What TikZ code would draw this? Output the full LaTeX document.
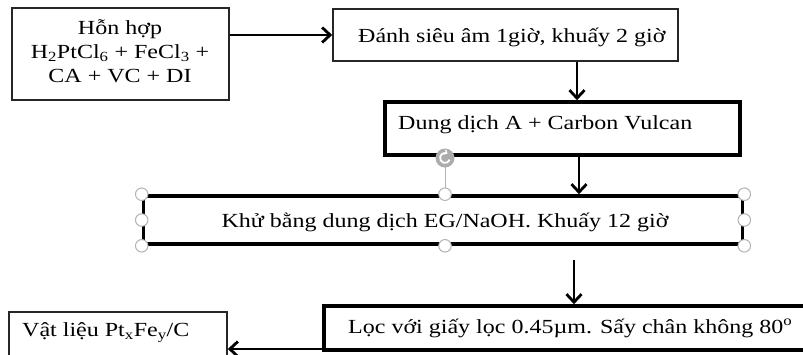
\documentclass[tikz,border=0pt]{standalone}
\usepackage{fontspec}
\setmainfont[FakeStretch=1.2]{Liberation Serif}
\usetikzlibrary{arrows.meta,calc}
\begin{document}
\begin{tikzpicture}[x=1pt,y=-1pt,
  thinbox/.style={draw=black!85, line width=1.6pt, inner sep=0pt},
  thickbox/.style={draw=black, line width=3.6pt, inner sep=0pt},
  txt/.style={font=\fontsize{20}{24}\selectfont, inner sep=0pt},
  arr/.style={line width=2.8pt, -{Straight Barb[length=8pt,width=15pt,line width=2.8pt]}},
  handle/.style={circle, draw=gray!60, fill=white, line width=1pt, minimum size=12.5pt, inner sep=0pt},
  rothandle/.style={circle, fill=gray!65, minimum size=19pt, inner sep=0pt}]
\useasboundingbox (0,0) rectangle (803,354);

% boxes
\node[thinbox, minimum width=217pt, minimum height=92pt] (b1) at (120.5,54) {};
\node[thinbox, minimum width=345pt, minimum height=52pt] (b2) at (505.5,35) {};
\node[thickbox, minimum width=355pt, minimum height=53pt] (b3) at (562.5,128.5) {};
\node[thickbox, minimum width=599pt, minimum height=48pt] (b4) at (443,220) {};
\node[thickbox, minimum width=482pt, minimum height=44pt] (b5) at (565,328) {};
\node[thinbox, minimum width=218pt, minimum height=46pt] (b6) at (118,335) {};

% texts
\node[txt, anchor=base] (t1a) at (120,34.5) {Hỗn hợp};
\node[txt, anchor=base] (t1b) at (120,58.5) {H\textsubscript{2}PtCl\textsubscript{6} + FeCl\textsubscript{3} +};
\node[txt, anchor=base] (t1c) at (120,82.5) {CA + VC + DI};
\node[txt, anchor=base west] (t2) at (358,42) {Đánh siêu âm 1giờ, khuấy 2 giờ};
\node[txt, anchor=base west] (t3) at (398,129) {Dung dịch A + Carbon Vulcan};
\node[txt, anchor=base] (t4) at (445,227) {Khử bằng dung dịch EG/NaOH. Khuấy 12 giờ};
\node[txt, anchor=base west] (t5) at (348,333) {Lọc với giấy lọc 0.45µm. Sấy chân không 80\textsuperscript{o}};
\node[txt, anchor=base west] (t6) at (22,336.5) {Vật liệu Pt\textsubscript{x}Fe\textsubscript{y}/C};

% connectors
\coordinate (c23) at (577,0);
\coordinate (c34) at (579,0);
\coordinate (c45) at (574,260);
\coordinate (c56) at (0,349);
\draw[arr] (b1.east |- b2.west) -- (b2.west);
\draw[arr] (b2.south -| c23) -- (b3.north -| c23);
\draw[arr] (b3.south -| c34) -- (b4.north -| c34);
\draw[arr] (c45) -- (b5.north -| c45);
\draw[arr] (b5.west |- c56) -- (b6.east |- c56);

% selection handles
\coordinate (rh) at (445,158);
\draw[gray!60, line width=0.8pt] (rh) -- (b4.north -| rh);
\node[rothandle] (rot) at (rh) {};
\draw[white, line width=1.8pt, -{Straight Barb[length=2.5pt,width=5pt,line width=1.3pt]}] (rot.center) ++(20:5) arc[start angle=20, end angle=300, radius=5];
\node[handle] (h1) at (b4.north west) {};
\node[handle] (h2) at (b4.north -| rh) {};
\node[handle] (h3) at (b4.north east) {};
\node[handle] (h4) at (b4.west) {};
\node[handle] (h5) at (b4.east) {};
\node[handle] (h6) at (b4.south west) {};
\node[handle] (h7) at (b4.south -| rh) {};
\node[handle] (h8) at (b4.south east) {};
\end{tikzpicture}
\end{document}
